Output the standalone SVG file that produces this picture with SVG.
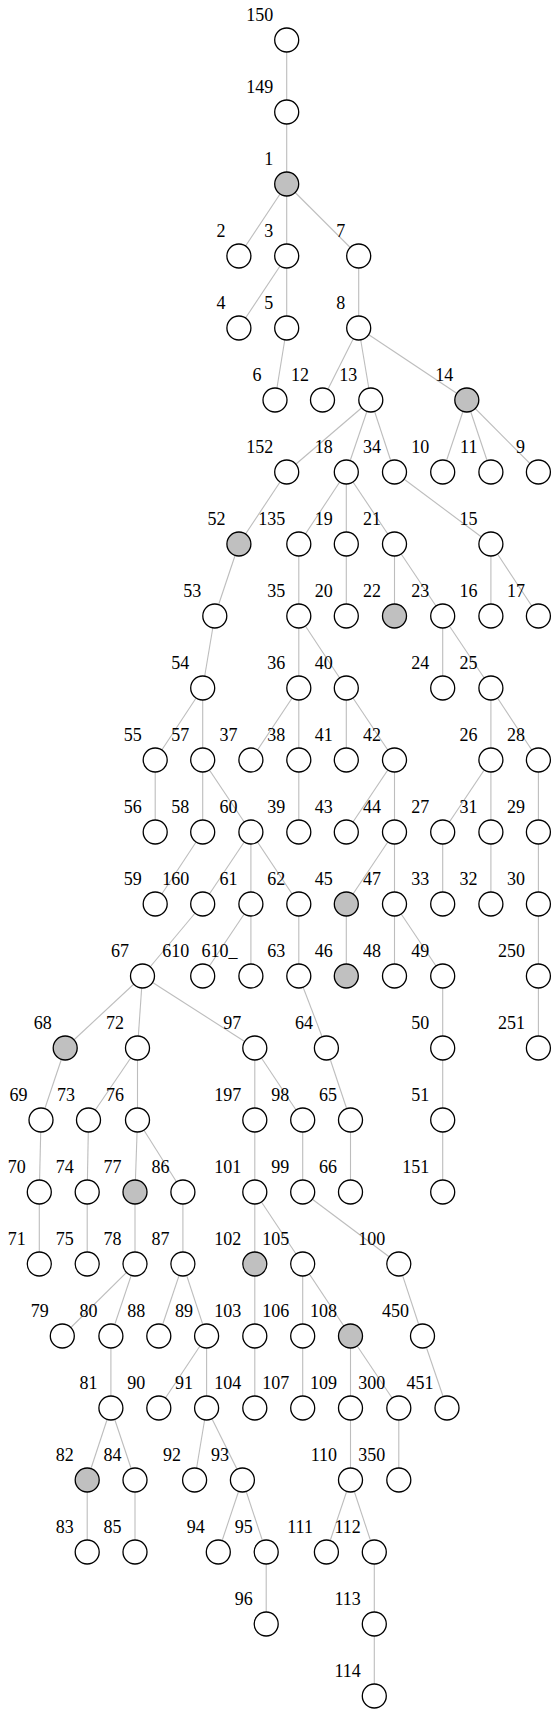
<svg xmlns="http://www.w3.org/2000/svg" width="556" height="1713" viewBox="0 0 556 1713">
<style>
.n circle{fill:#fff;stroke:#000;stroke-width:1.3}
.g circle{fill:#c0c0c0;stroke:#000;stroke-width:1.3}
.n text,.g text{font-family:"Liberation Serif","Times New Roman",serif;font-size:18px;text-anchor:end;fill:#000}
#edges line{stroke:#bdbdbd;stroke-width:1.1}
</style>
<rect width="556" height="1713" fill="#fff"/>
<g id="edges">
<line x1="286.7" y1="40" x2="286.7" y2="112"/>
<line x1="286.7" y1="112" x2="286.7" y2="184"/>
<line x1="286.7" y1="184" x2="238.9" y2="256"/>
<line x1="286.7" y1="184" x2="286.7" y2="256"/>
<line x1="286.7" y1="184" x2="358.7" y2="256"/>
<line x1="286.7" y1="256" x2="238.9" y2="328"/>
<line x1="286.7" y1="256" x2="286.7" y2="328"/>
<line x1="358.7" y1="256" x2="358.7" y2="328"/>
<line x1="286.7" y1="328" x2="275" y2="400"/>
<line x1="358.7" y1="328" x2="322.5" y2="400"/>
<line x1="358.7" y1="328" x2="370.8" y2="400"/>
<line x1="358.7" y1="328" x2="466.8" y2="400"/>
<line x1="370.8" y1="400" x2="286.7" y2="472"/>
<line x1="370.8" y1="400" x2="346.3" y2="472"/>
<line x1="370.8" y1="400" x2="394.5" y2="472"/>
<line x1="466.8" y1="400" x2="442.7" y2="472"/>
<line x1="466.8" y1="400" x2="490.9" y2="472"/>
<line x1="466.8" y1="400" x2="538.4" y2="472"/>
<line x1="286.7" y1="472" x2="238.9" y2="544"/>
<line x1="346.3" y1="472" x2="298.8" y2="544"/>
<line x1="346.3" y1="472" x2="346.3" y2="544"/>
<line x1="346.3" y1="472" x2="394.5" y2="544"/>
<line x1="394.5" y1="472" x2="490.9" y2="544"/>
<line x1="238.9" y1="544" x2="214.8" y2="616"/>
<line x1="298.8" y1="544" x2="298.8" y2="616"/>
<line x1="346.3" y1="544" x2="346.3" y2="616"/>
<line x1="394.5" y1="544" x2="394.5" y2="616"/>
<line x1="394.5" y1="544" x2="442.7" y2="616"/>
<line x1="490.9" y1="544" x2="490.9" y2="616"/>
<line x1="490.9" y1="544" x2="538.4" y2="616"/>
<line x1="214.8" y1="616" x2="202.7" y2="688"/>
<line x1="298.8" y1="616" x2="298.8" y2="688"/>
<line x1="298.8" y1="616" x2="346.3" y2="688"/>
<line x1="442.7" y1="616" x2="442.7" y2="688"/>
<line x1="442.7" y1="616" x2="490.9" y2="688"/>
<line x1="202.7" y1="688" x2="155.2" y2="760"/>
<line x1="202.7" y1="688" x2="202.7" y2="760"/>
<line x1="298.8" y1="688" x2="250.9" y2="760"/>
<line x1="298.8" y1="688" x2="298.8" y2="760"/>
<line x1="346.3" y1="688" x2="346.3" y2="760"/>
<line x1="346.3" y1="688" x2="394.5" y2="760"/>
<line x1="490.9" y1="688" x2="490.9" y2="760"/>
<line x1="490.9" y1="688" x2="538.4" y2="760"/>
<line x1="155.2" y1="760" x2="155.2" y2="832"/>
<line x1="202.7" y1="760" x2="202.7" y2="832"/>
<line x1="202.7" y1="760" x2="250.9" y2="832"/>
<line x1="298.8" y1="760" x2="298.8" y2="832"/>
<line x1="394.5" y1="760" x2="346.3" y2="832"/>
<line x1="394.5" y1="760" x2="394.5" y2="832"/>
<line x1="490.9" y1="760" x2="442.7" y2="832"/>
<line x1="490.9" y1="760" x2="490.9" y2="832"/>
<line x1="538.4" y1="760" x2="538.4" y2="832"/>
<line x1="202.7" y1="832" x2="155.2" y2="904"/>
<line x1="250.9" y1="832" x2="202.7" y2="904"/>
<line x1="250.9" y1="832" x2="250.9" y2="904"/>
<line x1="250.9" y1="832" x2="298.8" y2="904"/>
<line x1="394.5" y1="832" x2="346.3" y2="904"/>
<line x1="394.5" y1="832" x2="394.5" y2="904"/>
<line x1="442.7" y1="832" x2="442.7" y2="904"/>
<line x1="490.9" y1="832" x2="490.9" y2="904"/>
<line x1="538.4" y1="832" x2="538.4" y2="904"/>
<line x1="202.7" y1="904" x2="142.5" y2="976"/>
<line x1="250.9" y1="904" x2="202.7" y2="976"/>
<line x1="250.9" y1="904" x2="250.9" y2="976"/>
<line x1="298.8" y1="904" x2="298.8" y2="976"/>
<line x1="346.3" y1="904" x2="346.3" y2="976"/>
<line x1="394.5" y1="904" x2="394.5" y2="976"/>
<line x1="394.5" y1="904" x2="442.7" y2="976"/>
<line x1="538.4" y1="904" x2="538.4" y2="976"/>
<line x1="142.5" y1="976" x2="65.2" y2="1048"/>
<line x1="142.5" y1="976" x2="137.5" y2="1048"/>
<line x1="142.5" y1="976" x2="254.8" y2="1048"/>
<line x1="298.8" y1="976" x2="326.4" y2="1048"/>
<line x1="442.7" y1="976" x2="442.7" y2="1048"/>
<line x1="538.4" y1="976" x2="538.4" y2="1048"/>
<line x1="65.2" y1="1048" x2="41" y2="1120"/>
<line x1="137.5" y1="1048" x2="88.5" y2="1120"/>
<line x1="137.5" y1="1048" x2="137.5" y2="1120"/>
<line x1="254.8" y1="1048" x2="254.8" y2="1120"/>
<line x1="254.8" y1="1048" x2="302.7" y2="1120"/>
<line x1="326.4" y1="1048" x2="350.5" y2="1120"/>
<line x1="442.7" y1="1048" x2="442.7" y2="1120"/>
<line x1="41" y1="1120" x2="39.3" y2="1192"/>
<line x1="88.5" y1="1120" x2="87.2" y2="1192"/>
<line x1="137.5" y1="1120" x2="135" y2="1192"/>
<line x1="137.5" y1="1120" x2="182.9" y2="1192"/>
<line x1="254.8" y1="1120" x2="254.8" y2="1192"/>
<line x1="302.7" y1="1120" x2="302.7" y2="1192"/>
<line x1="350.5" y1="1120" x2="350.5" y2="1192"/>
<line x1="442.7" y1="1120" x2="442.7" y2="1192"/>
<line x1="39.3" y1="1192" x2="39.3" y2="1264"/>
<line x1="87.2" y1="1192" x2="87.2" y2="1264"/>
<line x1="135" y1="1192" x2="135" y2="1264"/>
<line x1="182.9" y1="1192" x2="182.9" y2="1264"/>
<line x1="254.8" y1="1192" x2="254.8" y2="1264"/>
<line x1="254.8" y1="1192" x2="302.7" y2="1264"/>
<line x1="302.7" y1="1192" x2="398.8" y2="1264"/>
<line x1="135" y1="1264" x2="62.3" y2="1336"/>
<line x1="135" y1="1264" x2="110.9" y2="1336"/>
<line x1="182.9" y1="1264" x2="158.8" y2="1336"/>
<line x1="182.9" y1="1264" x2="206.6" y2="1336"/>
<line x1="254.8" y1="1264" x2="254.8" y2="1336"/>
<line x1="302.7" y1="1264" x2="302.7" y2="1336"/>
<line x1="302.7" y1="1264" x2="350.5" y2="1336"/>
<line x1="398.8" y1="1264" x2="422.5" y2="1336"/>
<line x1="110.9" y1="1336" x2="110.9" y2="1408"/>
<line x1="206.6" y1="1336" x2="158.8" y2="1408"/>
<line x1="206.6" y1="1336" x2="206.6" y2="1408"/>
<line x1="254.8" y1="1336" x2="254.8" y2="1408"/>
<line x1="302.7" y1="1336" x2="302.7" y2="1408"/>
<line x1="350.5" y1="1336" x2="350.5" y2="1408"/>
<line x1="350.5" y1="1336" x2="398.8" y2="1408"/>
<line x1="422.5" y1="1336" x2="447" y2="1408"/>
<line x1="110.9" y1="1408" x2="87.2" y2="1480"/>
<line x1="110.9" y1="1408" x2="135" y2="1480"/>
<line x1="206.6" y1="1408" x2="194.6" y2="1480"/>
<line x1="206.6" y1="1408" x2="242.4" y2="1480"/>
<line x1="350.5" y1="1408" x2="350.5" y2="1480"/>
<line x1="398.8" y1="1408" x2="398.8" y2="1480"/>
<line x1="87.2" y1="1480" x2="87.2" y2="1552"/>
<line x1="135" y1="1480" x2="135" y2="1552"/>
<line x1="242.4" y1="1480" x2="218.3" y2="1552"/>
<line x1="242.4" y1="1480" x2="266.2" y2="1552"/>
<line x1="350.5" y1="1480" x2="326.4" y2="1552"/>
<line x1="350.5" y1="1480" x2="374.3" y2="1552"/>
<line x1="266.2" y1="1552" x2="266.2" y2="1624"/>
<line x1="374.3" y1="1552" x2="374.3" y2="1624"/>
<line x1="374.3" y1="1624" x2="374.3" y2="1696"/>
</g>
<g id="n150" class="n" transform="translate(286.7,40)"><circle r="12"/><text x="-13.5" y="-19.5">150</text></g>
<g id="n149" class="n" transform="translate(286.7,112)"><circle r="12"/><text x="-13.5" y="-19.5">149</text></g>
<g id="n1" class="g" transform="translate(286.7,184)"><circle r="12"/><text x="-13.5" y="-19.5">1</text></g>
<g id="n2" class="n" transform="translate(238.9,256)"><circle r="12"/><text x="-13.5" y="-19.5">2</text></g>
<g id="n3" class="n" transform="translate(286.7,256)"><circle r="12"/><text x="-13.5" y="-19.5">3</text></g>
<g id="n7" class="n" transform="translate(358.7,256)"><circle r="12"/><text x="-13.5" y="-19.5">7</text></g>
<g id="n4" class="n" transform="translate(238.9,328)"><circle r="12"/><text x="-13.5" y="-19.5">4</text></g>
<g id="n5" class="n" transform="translate(286.7,328)"><circle r="12"/><text x="-13.5" y="-19.5">5</text></g>
<g id="n8" class="n" transform="translate(358.7,328)"><circle r="12"/><text x="-13.5" y="-19.5">8</text></g>
<g id="n6" class="n" transform="translate(275,400)"><circle r="12"/><text x="-13.5" y="-19.5">6</text></g>
<g id="n12" class="n" transform="translate(322.5,400)"><circle r="12"/><text x="-13.5" y="-19.5">12</text></g>
<g id="n13" class="n" transform="translate(370.8,400)"><circle r="12"/><text x="-13.5" y="-19.5">13</text></g>
<g id="n14" class="g" transform="translate(466.8,400)"><circle r="12"/><text x="-13.5" y="-19.5">14</text></g>
<g id="n152" class="n" transform="translate(286.7,472)"><circle r="12"/><text x="-13.5" y="-19.5">152</text></g>
<g id="n18" class="n" transform="translate(346.3,472)"><circle r="12"/><text x="-13.5" y="-19.5">18</text></g>
<g id="n34" class="n" transform="translate(394.5,472)"><circle r="12"/><text x="-13.5" y="-19.5">34</text></g>
<g id="n10" class="n" transform="translate(442.7,472)"><circle r="12"/><text x="-13.5" y="-19.5">10</text></g>
<g id="n11" class="n" transform="translate(490.9,472)"><circle r="12"/><text x="-13.5" y="-19.5">11</text></g>
<g id="n9" class="n" transform="translate(538.4,472)"><circle r="12"/><text x="-13.5" y="-19.5">9</text></g>
<g id="n52" class="g" transform="translate(238.9,544)"><circle r="12"/><text x="-13.5" y="-19.5">52</text></g>
<g id="n135" class="n" transform="translate(298.8,544)"><circle r="12"/><text x="-13.5" y="-19.5">135</text></g>
<g id="n19" class="n" transform="translate(346.3,544)"><circle r="12"/><text x="-13.5" y="-19.5">19</text></g>
<g id="n21" class="n" transform="translate(394.5,544)"><circle r="12"/><text x="-13.5" y="-19.5">21</text></g>
<g id="n15" class="n" transform="translate(490.9,544)"><circle r="12"/><text x="-13.5" y="-19.5">15</text></g>
<g id="n53" class="n" transform="translate(214.8,616)"><circle r="12"/><text x="-13.5" y="-19.5">53</text></g>
<g id="n35" class="n" transform="translate(298.8,616)"><circle r="12"/><text x="-13.5" y="-19.5">35</text></g>
<g id="n20" class="n" transform="translate(346.3,616)"><circle r="12"/><text x="-13.5" y="-19.5">20</text></g>
<g id="n22" class="g" transform="translate(394.5,616)"><circle r="12"/><text x="-13.5" y="-19.5">22</text></g>
<g id="n23" class="n" transform="translate(442.7,616)"><circle r="12"/><text x="-13.5" y="-19.5">23</text></g>
<g id="n16" class="n" transform="translate(490.9,616)"><circle r="12"/><text x="-13.5" y="-19.5">16</text></g>
<g id="n17" class="n" transform="translate(538.4,616)"><circle r="12"/><text x="-13.5" y="-19.5">17</text></g>
<g id="n54" class="n" transform="translate(202.7,688)"><circle r="12"/><text x="-13.5" y="-19.5">54</text></g>
<g id="n36" class="n" transform="translate(298.8,688)"><circle r="12"/><text x="-13.5" y="-19.5">36</text></g>
<g id="n40" class="n" transform="translate(346.3,688)"><circle r="12"/><text x="-13.5" y="-19.5">40</text></g>
<g id="n24" class="n" transform="translate(442.7,688)"><circle r="12"/><text x="-13.5" y="-19.5">24</text></g>
<g id="n25" class="n" transform="translate(490.9,688)"><circle r="12"/><text x="-13.5" y="-19.5">25</text></g>
<g id="n55" class="n" transform="translate(155.2,760)"><circle r="12"/><text x="-13.5" y="-19.5">55</text></g>
<g id="n57" class="n" transform="translate(202.7,760)"><circle r="12"/><text x="-13.5" y="-19.5">57</text></g>
<g id="n37" class="n" transform="translate(250.9,760)"><circle r="12"/><text x="-13.5" y="-19.5">37</text></g>
<g id="n38" class="n" transform="translate(298.8,760)"><circle r="12"/><text x="-13.5" y="-19.5">38</text></g>
<g id="n41" class="n" transform="translate(346.3,760)"><circle r="12"/><text x="-13.5" y="-19.5">41</text></g>
<g id="n42" class="n" transform="translate(394.5,760)"><circle r="12"/><text x="-13.5" y="-19.5">42</text></g>
<g id="n26" class="n" transform="translate(490.9,760)"><circle r="12"/><text x="-13.5" y="-19.5">26</text></g>
<g id="n28" class="n" transform="translate(538.4,760)"><circle r="12"/><text x="-13.5" y="-19.5">28</text></g>
<g id="n56" class="n" transform="translate(155.2,832)"><circle r="12"/><text x="-13.5" y="-19.5">56</text></g>
<g id="n58" class="n" transform="translate(202.7,832)"><circle r="12"/><text x="-13.5" y="-19.5">58</text></g>
<g id="n60" class="n" transform="translate(250.9,832)"><circle r="12"/><text x="-13.5" y="-19.5">60</text></g>
<g id="n39" class="n" transform="translate(298.8,832)"><circle r="12"/><text x="-13.5" y="-19.5">39</text></g>
<g id="n43" class="n" transform="translate(346.3,832)"><circle r="12"/><text x="-13.5" y="-19.5">43</text></g>
<g id="n44" class="n" transform="translate(394.5,832)"><circle r="12"/><text x="-13.5" y="-19.5">44</text></g>
<g id="n27" class="n" transform="translate(442.7,832)"><circle r="12"/><text x="-13.5" y="-19.5">27</text></g>
<g id="n31" class="n" transform="translate(490.9,832)"><circle r="12"/><text x="-13.5" y="-19.5">31</text></g>
<g id="n29" class="n" transform="translate(538.4,832)"><circle r="12"/><text x="-13.5" y="-19.5">29</text></g>
<g id="n59" class="n" transform="translate(155.2,904)"><circle r="12"/><text x="-13.5" y="-19.5">59</text></g>
<g id="n160" class="n" transform="translate(202.7,904)"><circle r="12"/><text x="-13.5" y="-19.5">160</text></g>
<g id="n61" class="n" transform="translate(250.9,904)"><circle r="12"/><text x="-13.5" y="-19.5">61</text></g>
<g id="n62" class="n" transform="translate(298.8,904)"><circle r="12"/><text x="-13.5" y="-19.5">62</text></g>
<g id="n45" class="g" transform="translate(346.3,904)"><circle r="12"/><text x="-13.5" y="-19.5">45</text></g>
<g id="n47" class="n" transform="translate(394.5,904)"><circle r="12"/><text x="-13.5" y="-19.5">47</text></g>
<g id="n33" class="n" transform="translate(442.7,904)"><circle r="12"/><text x="-13.5" y="-19.5">33</text></g>
<g id="n32" class="n" transform="translate(490.9,904)"><circle r="12"/><text x="-13.5" y="-19.5">32</text></g>
<g id="n30" class="n" transform="translate(538.4,904)"><circle r="12"/><text x="-13.5" y="-19.5">30</text></g>
<g id="n67" class="n" transform="translate(142.5,976)"><circle r="12"/><text x="-13.5" y="-19.5">67</text></g>
<g id="n610" class="n" transform="translate(202.7,976)"><circle r="12"/><text x="-13.5" y="-19.5">610</text></g>
<g id="n610_" class="n" transform="translate(250.9,976)"><circle r="12"/><text x="-13.5" y="-19.5">610_</text></g>
<g id="n63" class="n" transform="translate(298.8,976)"><circle r="12"/><text x="-13.5" y="-19.5">63</text></g>
<g id="n46" class="g" transform="translate(346.3,976)"><circle r="12"/><text x="-13.5" y="-19.5">46</text></g>
<g id="n48" class="n" transform="translate(394.5,976)"><circle r="12"/><text x="-13.5" y="-19.5">48</text></g>
<g id="n49" class="n" transform="translate(442.7,976)"><circle r="12"/><text x="-13.5" y="-19.5">49</text></g>
<g id="n250" class="n" transform="translate(538.4,976)"><circle r="12"/><text x="-13.5" y="-19.5">250</text></g>
<g id="n68" class="g" transform="translate(65.2,1048)"><circle r="12"/><text x="-13.5" y="-19.5">68</text></g>
<g id="n72" class="n" transform="translate(137.5,1048)"><circle r="12"/><text x="-13.5" y="-19.5">72</text></g>
<g id="n97" class="n" transform="translate(254.8,1048)"><circle r="12"/><text x="-13.5" y="-19.5">97</text></g>
<g id="n64" class="n" transform="translate(326.4,1048)"><circle r="12"/><text x="-13.5" y="-19.5">64</text></g>
<g id="n50" class="n" transform="translate(442.7,1048)"><circle r="12"/><text x="-13.5" y="-19.5">50</text></g>
<g id="n251" class="n" transform="translate(538.4,1048)"><circle r="12"/><text x="-13.5" y="-19.5">251</text></g>
<g id="n69" class="n" transform="translate(41,1120)"><circle r="12"/><text x="-13.5" y="-19.5">69</text></g>
<g id="n73" class="n" transform="translate(88.5,1120)"><circle r="12"/><text x="-13.5" y="-19.5">73</text></g>
<g id="n76" class="n" transform="translate(137.5,1120)"><circle r="12"/><text x="-13.5" y="-19.5">76</text></g>
<g id="n197" class="n" transform="translate(254.8,1120)"><circle r="12"/><text x="-13.5" y="-19.5">197</text></g>
<g id="n98" class="n" transform="translate(302.7,1120)"><circle r="12"/><text x="-13.5" y="-19.5">98</text></g>
<g id="n65" class="n" transform="translate(350.5,1120)"><circle r="12"/><text x="-13.5" y="-19.5">65</text></g>
<g id="n51" class="n" transform="translate(442.7,1120)"><circle r="12"/><text x="-13.5" y="-19.5">51</text></g>
<g id="n70" class="n" transform="translate(39.3,1192)"><circle r="12"/><text x="-13.5" y="-19.5">70</text></g>
<g id="n74" class="n" transform="translate(87.2,1192)"><circle r="12"/><text x="-13.5" y="-19.5">74</text></g>
<g id="n77" class="g" transform="translate(135,1192)"><circle r="12"/><text x="-13.5" y="-19.5">77</text></g>
<g id="n86" class="n" transform="translate(182.9,1192)"><circle r="12"/><text x="-13.5" y="-19.5">86</text></g>
<g id="n101" class="n" transform="translate(254.8,1192)"><circle r="12"/><text x="-13.5" y="-19.5">101</text></g>
<g id="n99" class="n" transform="translate(302.7,1192)"><circle r="12"/><text x="-13.5" y="-19.5">99</text></g>
<g id="n66" class="n" transform="translate(350.5,1192)"><circle r="12"/><text x="-13.5" y="-19.5">66</text></g>
<g id="n151" class="n" transform="translate(442.7,1192)"><circle r="12"/><text x="-13.5" y="-19.5">151</text></g>
<g id="n71" class="n" transform="translate(39.3,1264)"><circle r="12"/><text x="-13.5" y="-19.5">71</text></g>
<g id="n75" class="n" transform="translate(87.2,1264)"><circle r="12"/><text x="-13.5" y="-19.5">75</text></g>
<g id="n78" class="n" transform="translate(135,1264)"><circle r="12"/><text x="-13.5" y="-19.5">78</text></g>
<g id="n87" class="n" transform="translate(182.9,1264)"><circle r="12"/><text x="-13.5" y="-19.5">87</text></g>
<g id="n102" class="g" transform="translate(254.8,1264)"><circle r="12"/><text x="-13.5" y="-19.5">102</text></g>
<g id="n105" class="n" transform="translate(302.7,1264)"><circle r="12"/><text x="-13.5" y="-19.5">105</text></g>
<g id="n100" class="n" transform="translate(398.8,1264)"><circle r="12"/><text x="-13.5" y="-19.5">100</text></g>
<g id="n79" class="n" transform="translate(62.3,1336)"><circle r="12"/><text x="-13.5" y="-19.5">79</text></g>
<g id="n80" class="n" transform="translate(110.9,1336)"><circle r="12"/><text x="-13.5" y="-19.5">80</text></g>
<g id="n88" class="n" transform="translate(158.8,1336)"><circle r="12"/><text x="-13.5" y="-19.5">88</text></g>
<g id="n89" class="n" transform="translate(206.6,1336)"><circle r="12"/><text x="-13.5" y="-19.5">89</text></g>
<g id="n103" class="n" transform="translate(254.8,1336)"><circle r="12"/><text x="-13.5" y="-19.5">103</text></g>
<g id="n106" class="n" transform="translate(302.7,1336)"><circle r="12"/><text x="-13.5" y="-19.5">106</text></g>
<g id="n108" class="g" transform="translate(350.5,1336)"><circle r="12"/><text x="-13.5" y="-19.5">108</text></g>
<g id="n450" class="n" transform="translate(422.5,1336)"><circle r="12"/><text x="-13.5" y="-19.5">450</text></g>
<g id="n81" class="n" transform="translate(110.9,1408)"><circle r="12"/><text x="-13.5" y="-19.5">81</text></g>
<g id="n90" class="n" transform="translate(158.8,1408)"><circle r="12"/><text x="-13.5" y="-19.5">90</text></g>
<g id="n91" class="n" transform="translate(206.6,1408)"><circle r="12"/><text x="-13.5" y="-19.5">91</text></g>
<g id="n104" class="n" transform="translate(254.8,1408)"><circle r="12"/><text x="-13.5" y="-19.5">104</text></g>
<g id="n107" class="n" transform="translate(302.7,1408)"><circle r="12"/><text x="-13.5" y="-19.5">107</text></g>
<g id="n109" class="n" transform="translate(350.5,1408)"><circle r="12"/><text x="-13.5" y="-19.5">109</text></g>
<g id="n300" class="n" transform="translate(398.8,1408)"><circle r="12"/><text x="-13.5" y="-19.5">300</text></g>
<g id="n451" class="n" transform="translate(447,1408)"><circle r="12"/><text x="-13.5" y="-19.5">451</text></g>
<g id="n82" class="g" transform="translate(87.2,1480)"><circle r="12"/><text x="-13.5" y="-19.5">82</text></g>
<g id="n84" class="n" transform="translate(135,1480)"><circle r="12"/><text x="-13.5" y="-19.5">84</text></g>
<g id="n92" class="n" transform="translate(194.6,1480)"><circle r="12"/><text x="-13.5" y="-19.5">92</text></g>
<g id="n93" class="n" transform="translate(242.4,1480)"><circle r="12"/><text x="-13.5" y="-19.5">93</text></g>
<g id="n110" class="n" transform="translate(350.5,1480)"><circle r="12"/><text x="-13.5" y="-19.5">110</text></g>
<g id="n350" class="n" transform="translate(398.8,1480)"><circle r="12"/><text x="-13.5" y="-19.5">350</text></g>
<g id="n83" class="n" transform="translate(87.2,1552)"><circle r="12"/><text x="-13.5" y="-19.5">83</text></g>
<g id="n85" class="n" transform="translate(135,1552)"><circle r="12"/><text x="-13.5" y="-19.5">85</text></g>
<g id="n94" class="n" transform="translate(218.3,1552)"><circle r="12"/><text x="-13.5" y="-19.5">94</text></g>
<g id="n95" class="n" transform="translate(266.2,1552)"><circle r="12"/><text x="-13.5" y="-19.5">95</text></g>
<g id="n111" class="n" transform="translate(326.4,1552)"><circle r="12"/><text x="-13.5" y="-19.5">111</text></g>
<g id="n112" class="n" transform="translate(374.3,1552)"><circle r="12"/><text x="-13.5" y="-19.5">112</text></g>
<g id="n96" class="n" transform="translate(266.2,1624)"><circle r="12"/><text x="-13.5" y="-19.5">96</text></g>
<g id="n113" class="n" transform="translate(374.3,1624)"><circle r="12"/><text x="-13.5" y="-19.5">113</text></g>
<g id="n114" class="n" transform="translate(374.3,1696)"><circle r="12"/><text x="-13.5" y="-19.5">114</text></g>
</svg>
